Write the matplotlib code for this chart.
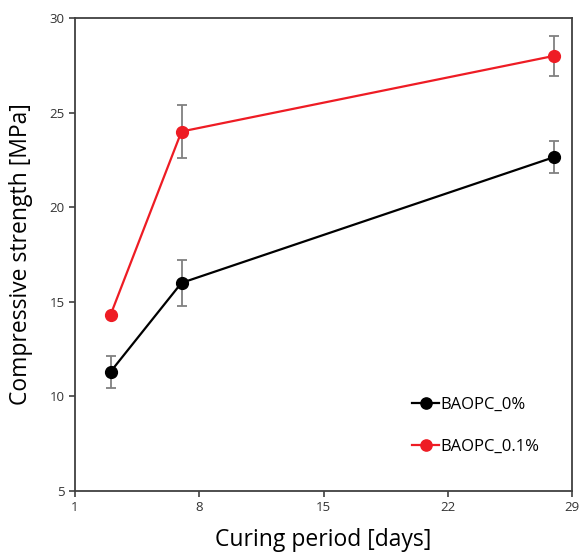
import matplotlib.pyplot as plt

# datos
dias = [3, 7, 28]
baopc_0 = [11.3, 16.0, 22.65]
err_0 = [0.86, 1.22, 0.85]
baopc_01 = [14.3, 24.0, 28.0]
err_01 = [0.0, 1.4, 1.07]
xticks = [1, 8, 15, 22, 29]
yticks = [5, 10, 15, 20, 25, 30]

plt.rcParams['font.family'] = ['Open Sans', 'DejaVu Sans']

fig = plt.figure(figsize=(5.86, 5.53), dpi=100)
ax = fig.add_axes([75 / 586, 1 - 491 / 553, 497 / 586, 473 / 553])

ax.errorbar(dias, baopc_0, yerr=err_0, color='black', marker='o', markersize=8.5,
            linewidth=1.6, ecolor='#808080', elinewidth=1.3, capsize=3.5,
            capthick=1.3, label='BAOPC_0%', zorder=3)
ax.errorbar(dias, baopc_01, yerr=err_01, color='#ee1c24', marker='o', markersize=8.5,
            linewidth=1.6, ecolor='#808080', elinewidth=1.3, capsize=3.5,
            capthick=1.3, label='BAOPC_0.1%', zorder=3)

ax.set_xlim(1, 29)
ax.set_ylim(5, 30)
ax.set_xticks(xticks)
ax.set_yticks(yticks)
ax.tick_params(direction='out', length=4, width=1.2, color='#404040',
               labelsize=9.5, labelcolor='#333333')
for s in ax.spines.values():
    s.set_color('#404040')
    s.set_linewidth(1.3)

ax.set_xlabel('Curing period [days]', fontsize=16.5, labelpad=10)
ax.set_ylabel('Compressive strength [MPa]', fontsize=16.5, labelpad=12)

# quitar barras de error de la leyenda
handles, labels = ax.get_legend_handles_labels()
handles = [h[0] for h in handles]
ax.legend(handles, labels, loc='lower right', bbox_to_anchor=(0.965, 0.045),
          frameon=False, fontsize=12, handlelength=1.6, handletextpad=0.1,
          labelspacing=1.55, markerscale=0.95)

plt.savefig('out.png', dpi=100)
